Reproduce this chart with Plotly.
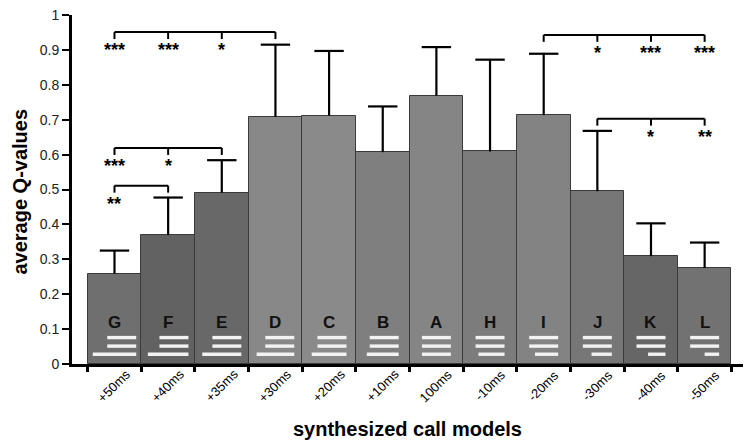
import plotly.graph_objects as go

# ---------------- data ----------------
categories = ["+50ms", "+40ms", "+35ms", "+30ms", "+20ms", "+10ms",
              "100ms", "-10ms", "-20ms", "-30ms", "-40ms", "-50ms"]
letters = ["G", "F", "E", "D", "C", "B", "A", "H", "I", "J", "K", "L"]
mean_q = [0.259, 0.369, 0.491, 0.708, 0.712, 0.607,
          0.769, 0.609, 0.713, 0.495, 0.309, 0.275]
err_q = [0.066, 0.108, 0.093, 0.207, 0.185, 0.131,
         0.139, 0.263, 0.176, 0.173, 0.094, 0.073]
# duration (ms) of the last syllable of each call model; first two are 100 ms
last_syllable_ms = [150, 140, 135, 130, 120, 110, 100, 90, 80, 70, 60, 50]
first_syllables_ms = [100, 100]
bar_colors = ["#6f6f6f", "#626262", "#686868", "#888888", "#8a8a8a", "#7f7f7f",
              "#858585", "#7c7c7c", "#838383", "#777777", "#666666", "#727272"]
y_ticks = [0, 0.1, 0.2, 0.3, 0.4, 0.5, 0.6, 0.7, 0.8, 0.9, 1]
y_tick_labels = ["0", "0.1", "0.2", "0.3", "0.4", "0.5", "0.6", "0.7", "0.8", "0.9", "1"]

# significance brackets: (from index, to index, bracket level, [(index, stars)])
brackets = [
    (0, 3, 0.951, [(0, "***"), (1, "***"), (2, "*")]),
    (0, 2, 0.619, [(0, "***"), (1, "*")]),
    (0, 1, 0.511, [(0, "**")]),
    (8, 11, 0.943, [(9, "*"), (10, "***"), (11, "***")]),
    (9, 11, 0.703, [(10, "*"), (11, "**")]),
]

FONT = "Liberation Sans, Arial, Helvetica, sans-serif"
xs = list(range(len(categories)))

fig = go.Figure()
fig.add_trace(go.Bar(
    x=xs, y=mean_q, width=1.0,
    marker=dict(color=bar_colors, line=dict(color="#3a3a3a", width=1)),
    hoverinfo="skip",
))
# upward error stems (no caps)
fig.add_trace(go.Scatter(
    x=xs, y=mean_q, mode="markers", marker=dict(size=1, color="rgba(0,0,0,0)"),
    error_y=dict(type="data", symmetric=False, array=err_q,
                 arrayminus=[0] * len(err_q), color="black",
                 thickness=2.2, width=0),
    hoverinfo="skip",
))
# caps at the top end of each error bar
fig.add_trace(go.Scatter(
    x=xs, y=[m + e for m, e in zip(mean_q, err_q)], mode="markers",
    marker=dict(symbol="line-ew", size=21, line=dict(color="black", width=2.2)),
    hoverinfo="skip",
))

shapes = []
annotations = []

# syllable diagrams (white lines) inside bars
ms_to_units = 0.0054
line_levels = [0.0757, 0.0513, 0.028]
for i, d in enumerate(last_syllable_ms):
    group_w = max(first_syllables_ms[0], d) * ms_to_units
    right = i + group_w / 2
    durs = first_syllables_ms + [d]
    for yy, dd in zip(line_levels, durs):
        shapes.append(dict(type="line", xref="x", yref="y",
                           x0=right - dd * ms_to_units, x1=right, y0=yy, y1=yy,
                           line=dict(color="#f2f2f2", width=3.4)))
    annotations.append(dict(x=i, y=0.118, xref="x", yref="y", text="<b>%s</b>" % letters[i],
                            showarrow=False, font=dict(family=FONT, size=17, color="#111111"),
                            xanchor="center", yanchor="middle"))

# brackets
drop = 0.02
for a, b, lvl, stars in brackets:
    shapes.append(dict(type="line", xref="x", yref="y", x0=a, x1=b, y0=lvl, y1=lvl,
                       line=dict(color="black", width=2)))
    for k in range(a, b + 1):
        shapes.append(dict(type="line", xref="x", yref="y", x0=k, x1=k, y0=lvl, y1=lvl - drop,
                           line=dict(color="black", width=2)))
    for k, s in stars:
        annotations.append(dict(x=k, y=lvl - 0.052, xref="x", yref="y", text="<b>%s</b>" % s,
                                showarrow=False, font=dict(family=FONT, size=18, color="black"),
                                xanchor="center", yanchor="middle"))

# rotated x tick labels centered under bars
for i, c in enumerate(categories):
    annotations.append(dict(x=i, y=-0.062, xref="x", yref="paper", text=c, textangle=-45,
                            showarrow=False, font=dict(family=FONT, size=13, color="black"),
                            xanchor="center", yanchor="middle"))

# axis titles
annotations.append(dict(x=0.5, y=-0.185, xref="paper", yref="paper",
                        text="<b>synthesized call models</b>", showarrow=False,
                        font=dict(family=FONT, size=20, color="black"),
                        xanchor="center", yanchor="middle"))
annotations.append(dict(x=-0.0775, y=0.494, xref="paper", yref="paper",
                        text="<b>average Q-values</b>", showarrow=False, textangle=-90,
                        font=dict(family=FONT, size=20, color="black"),
                        xanchor="center", yanchor="middle"))

fig.update_layout(
    width=750, height=447,
    margin=dict(l=72, r=7, t=7.5, b=83, pad=0),
    paper_bgcolor="white", plot_bgcolor="white",
    showlegend=False, bargap=0,
    shapes=shapes, annotations=annotations,
    font=dict(family=FONT, size=13, color="black"),
)
fig.update_xaxes(
    range=[-0.792, 11.715], showgrid=False, zeroline=False,
    showline=True, linecolor="black", linewidth=3,
    tickmode="array", tickvals=[k - 0.5 for k in range(len(categories) + 1)],
    ticktext=[""] * (len(categories) + 1),
    ticks="outside", ticklen=5, tickwidth=3, tickcolor="black",
)
fig.update_yaxes(
    range=[0, 1], showgrid=False, zeroline=False,
    showline=True, linecolor="black", linewidth=3,
    tickmode="array", tickvals=y_ticks, ticktext=y_tick_labels,
    ticks="outside", ticklen=7, tickwidth=2, tickcolor="black",
    ticklabeloverflow="allow",
    tickfont=dict(family=FONT, size=14, color="#222222"),
)

fig.write_html("out.html", config={"displayModeBar": False},
               post_script="document.body.style.margin='0';document.body.style.padding='0';")
